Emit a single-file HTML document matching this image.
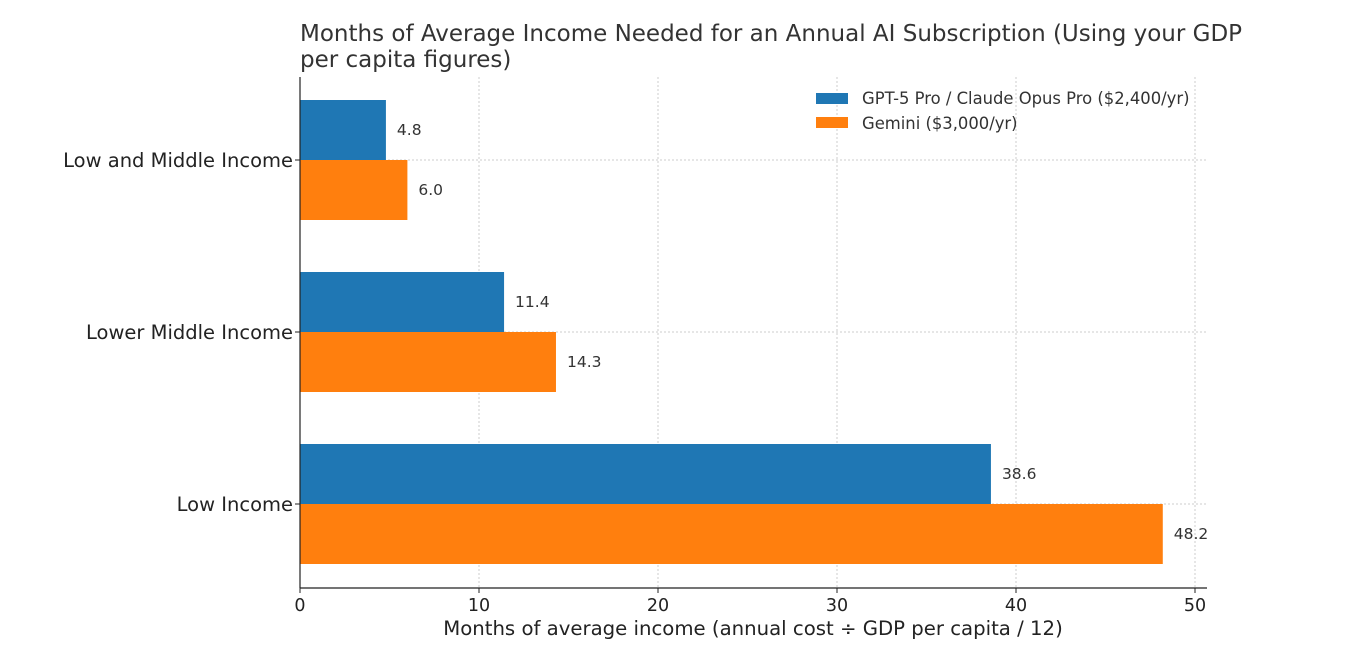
<!DOCTYPE html>
<html><head><meta charset="utf-8"><style>
body{margin:0;background:#fff;}
svg{display:block;font-family:"DejaVu Sans","Liberation Sans",sans-serif;}
</style></head><body>
<svg id="chart" width="1356" height="650">
<text x="300" y="41" font-size="23" fill="#333">Months of Average Income Needed for an Annual AI Subscription (Using your GDP</text>
<text x="300" y="67" font-size="23" fill="#333">per capita figures)</text>
<g id="grid"></g><g id="bars"></g><g id="axes"></g>
<text x="753" y="635" font-size="19.7" text-anchor="middle" fill="#222">Months of average income (annual cost ÷ GDP per capita / 12)</text>
<g>
<rect x="816" y="93" width="32" height="11" fill="#1f77b4"></rect>
<text x="862" y="104" font-size="16.4" fill="#333">GPT-5 Pro / Claude Opus Pro ($2,400/yr)</text>
<rect x="816" y="117" width="32" height="11" fill="#ff7f0e"></rect>
<text x="862" y="129" font-size="16.4" fill="#333">Gemini ($3,000/yr)</text>
</g>
</svg>
<script>
const categories = ["Low and Middle Income","Lower Middle Income","Low Income"];
const gptValues = [4.8, 11.4, 38.6];
const geminiValues = [6.0, 14.3, 48.2];
const xTicks = [0,10,20,30,40,50];

const NS="http://www.w3.org/2000/svg";
const x0=300,xScale=17.9,plotTop=77,plotBottom=588,plotRight=1207;
const xPos=v=>x0+v*xScale;
const catY=i=>160+i*172;
function mk(tag,attrs,parent){const e=document.createElementNS(NS,tag);for(const k in attrs)e.setAttribute(k,attrs[k]);document.getElementById(parent).appendChild(e);return e;}
xTicks.forEach(t=>{
  const l=mk('line',{x1:xPos(t),x2:xPos(t),y1:plotTop,y2:plotBottom,stroke:'#ccc','stroke-dasharray':'2,2'},'grid');
  
  
  const tk=mk('line',{x1:xPos(t),x2:xPos(t),y1:plotBottom,y2:plotBottom+5,stroke:'#222'},'axes');
  
  
  const tx=mk('text',{x:xPos(t),y:plotBottom+23,'font-size':17.5,'text-anchor':'middle',fill:'#222'},'axes');
  tx.textContent=t;
  
  
});
categories.forEach((c,i)=>{
  const y=catY(i);
  const g=mk('line',{x1:x0,x2:plotRight,y1:y,y2:y,stroke:'#ccc','stroke-dasharray':'2,2'},'grid');
  
  
  const tk=mk('line',{x1:x0-5,x2:x0,y1:y,y2:y,stroke:'#222'},'axes');
  
  
  const lb=mk('text',{x:293,y:y+7,'font-size':19.5,'text-anchor':'end',fill:'#222'},'axes');
  lb.textContent=c;
  
  
  [[gptValues[i],'#1f77b4',y-60,'bar-gpt'],[geminiValues[i],'#ff7f0e',y,'bar-gemini']].forEach(([v,col,by,nm])=>{
    const r=mk('rect',{x:x0,y:by,width:v*xScale,height:60,fill:col},'bars');
    
    
    const t=mk('text',{x:xPos(v)+11,y:by+35,'font-size':15.5,fill:'#333'},'bars');
    t.textContent=v.toFixed(1);
    
    
  });
});
const ls=mk('line',{x1:x0,x2:x0,y1:plotTop,y2:plotBottom,stroke:'#222','stroke-width':1.2},'axes');


const bs=mk('line',{x1:x0,x2:plotRight,y1:plotBottom,y2:plotBottom,stroke:'#222','stroke-width':1.2},'axes');


</script>
</body></html>
